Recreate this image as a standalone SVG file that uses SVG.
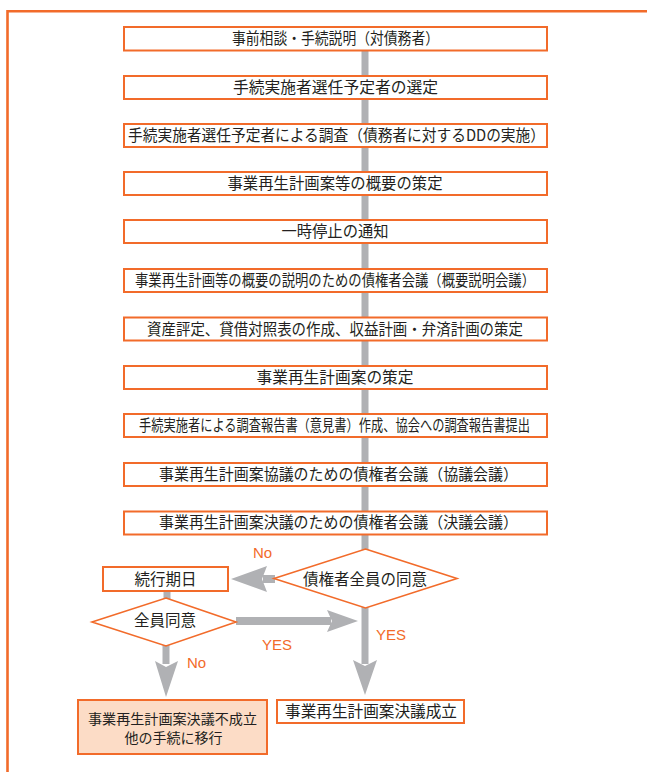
<svg xmlns="http://www.w3.org/2000/svg" width="647" height="772" viewBox="0 0 647 772">
<style>
.frame{fill:none;stroke:#F26B2A;stroke-width:2.6}
.box{fill:#fff;stroke:#F26B2A;stroke-width:2}
.diam{fill:#fff;stroke:#F26B2A;stroke-width:1.6}
.alt{fill:#FCDCC6;stroke:#F26B2A;stroke-width:2}
.t{font-family:"Noto Sans CJK JP","Noto Sans CJK SC",sans-serif;font-size:15.5px;fill:#231F20;text-anchor:middle}
.lbl{font-family:"Liberation Sans",Arial,sans-serif;font-size:15px;fill:#F26B2A}
.line{fill:none;stroke:#B0B1B4;stroke-width:7}
.shaft{fill:none;stroke:#B0B1B4;stroke-width:8}
.head{fill:#B0B1B4}
</style>
<rect width="647" height="772" fill="#fff"/>
<path class="frame" d="M7.5,772 V11.3 H647"/>
<g id="connectors">
<line class="line" x1="365" y1="50" x2="365" y2="550"/>
<line class="line" x1="365" y1="606" x2="365" y2="664"/>
<polygon class="head" points="353,660 365,666 377,660 365,695"/>
<line class="shaft" x1="275" y1="579" x2="263" y2="579"/>
<polygon class="head" points="267,566 262,579 267,592 231,579"/>
<line class="line" x1="167" y1="590" x2="167" y2="599"/>
<line class="shaft" x1="236" y1="621" x2="331" y2="621"/>
<polygon class="head" points="327,610 332,621 327,632 358,621"/>
<line class="line" x1="166" y1="645" x2="166" y2="664"/>
<polygon class="head" points="155,661 166,667 178,661 166,697"/>
<text class="lbl" x="253" y="558">No</text>
<text class="lbl" x="262" y="650">YES</text>
<text class="lbl" x="376" y="640">YES</text>
<text class="lbl" x="187" y="668">No</text>
</g>
<g id="n1"><rect class="box" x="124" y="27" width="423" height="23.5"/><text class="t" x="335.5" y="44.4" textLength="207" lengthAdjust="spacingAndGlyphs">事前相談・手続説明（対債務者）</text></g>
<g id="n2"><rect class="box" x="124" y="76" width="423" height="23"/><text class="t" x="335.5" y="92.8" textLength="205" lengthAdjust="spacingAndGlyphs">手続実施者選任予定者の選定</text></g>
<g id="n3"><rect class="box" x="124" y="124" width="423" height="23"/><text class="t" x="336.5" y="140.6" textLength="417" lengthAdjust="spacingAndGlyphs">手続実施者選任予定者による調査（債務者に対するDDの実施）</text></g>
<g id="n4"><rect class="box" x="124" y="172" width="423" height="23"/><text class="t" x="335" y="188.6" textLength="215" lengthAdjust="spacingAndGlyphs">事業再生計画案等の概要の策定</text></g>
<g id="n5"><rect class="box" x="124" y="220" width="423" height="23"/><text class="t" x="335" y="236.9" textLength="107" lengthAdjust="spacingAndGlyphs">一時停止の通知</text></g>
<g id="n6"><rect class="box" x="124" y="269" width="423" height="23"/><text class="t" x="335" y="286.2" textLength="400" lengthAdjust="spacingAndGlyphs">事業再生計画等の概要の説明のための債権者会議（概要説明会議）</text></g>
<g id="n7"><rect class="box" x="124" y="317.5" width="423" height="23"/><text class="t" x="335" y="334.8" textLength="376" lengthAdjust="spacingAndGlyphs">資産評定、貸借対照表の作成、収益計画・弁済計画の策定</text></g>
<g id="n8"><rect class="box" x="124" y="366" width="423" height="23"/><text class="t" x="335" y="383.3" textLength="157" lengthAdjust="spacingAndGlyphs">事業再生計画案の策定</text></g>
<g id="n9"><rect class="box" x="124" y="414" width="423" height="23"/><text class="t" x="334.5" y="430.9" textLength="391" lengthAdjust="spacingAndGlyphs">手続実施者による調査報告書（意見書）作成、協会への調査報告書提出</text></g>
<g id="n10"><rect class="box" x="124" y="463" width="423" height="23"/><text class="t" x="338.5" y="480.3" textLength="359" lengthAdjust="spacingAndGlyphs">事業再生計画案協議のための債権者会議（協議会議）</text></g>
<g id="n11"><rect class="box" x="124" y="511.5" width="423" height="23"/><text class="t" x="338.5" y="528.4" textLength="359" lengthAdjust="spacingAndGlyphs">事業再生計画案決議のための債権者会議（決議会議）</text></g>
<g id="d1"><polygon class="diam" points="365.5,549 457,578.5 365.5,608 274,578.5"/><text class="t" x="365" y="584.6">債権者全員の同意</text></g>
<g id="n12"><rect class="box" x="103" y="567" width="125" height="24"/><text class="t" x="165.5" y="584.6">続行期日</text></g>
<g id="d2"><polygon class="diam" points="166,598 236,622 166,646 92,622"/><text class="t" x="165" y="625.6">全員同意</text></g>
<g id="n13"><rect class="box" x="277" y="700" width="187" height="23"/><text class="t" x="371" y="717.2" textLength="172" lengthAdjust="spacingAndGlyphs">事業再生計画案決議成立</text></g>
<g id="n14"><rect class="alt" x="78" y="700" width="189" height="54"/><text class="t" x="172.5" y="724.2" style="font-size:14px" textLength="169" lengthAdjust="spacingAndGlyphs">事業再生計画案決議不成立</text><text class="t" x="173.5" y="743.2" style="font-size:14px">他の手続に移行</text></g>
</svg>
